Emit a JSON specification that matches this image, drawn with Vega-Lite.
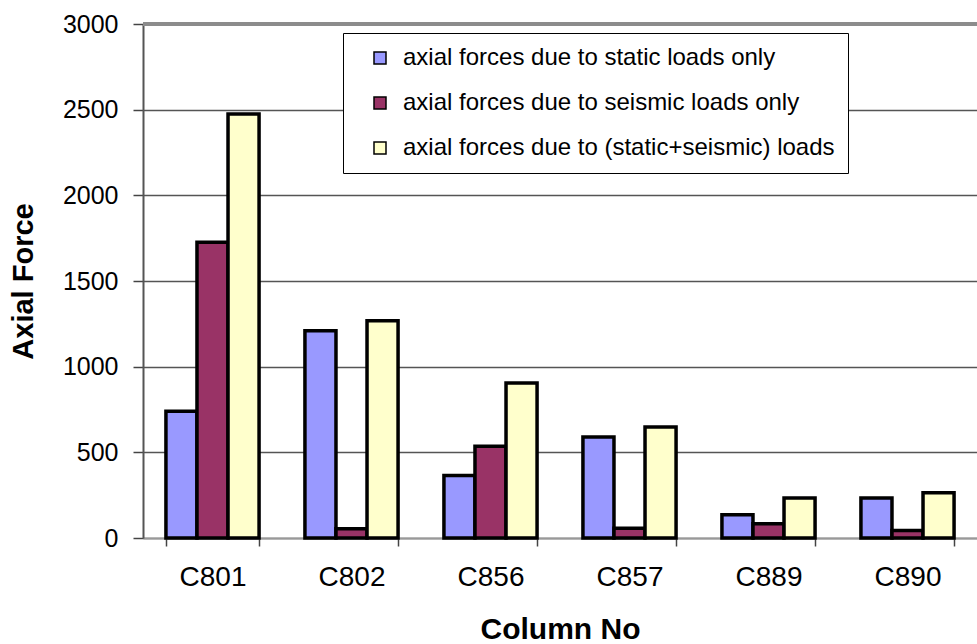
{
  "$schema": "https://vega.github.io/schema/vega-lite/v6.json",
  "autosize": {"type": "none"},
  "padding": {"left": 143, "top": 24, "right": 0, "bottom": 106},
  "width": 834,
  "height": 514,
  "background": "white",
  "config": {
    "font": "Liberation Sans",
    "view": {"stroke": null}
  },
  "data": {
    "values": [
      {"column": "C801", "load": "axial forces due to static loads only", "force": 740},
      {"column": "C801", "load": "axial forces due to seismic loads only", "force": 1726},
      {"column": "C801", "load": "axial forces due to (static+seismic) loads", "force": 2474},
      {"column": "C802", "load": "axial forces due to static loads only", "force": 1209},
      {"column": "C802", "load": "axial forces due to seismic loads only", "force": 54},
      {"column": "C802", "load": "axial forces due to (static+seismic) loads", "force": 1268},
      {"column": "C856", "load": "axial forces due to static loads only", "force": 365},
      {"column": "C856", "load": "axial forces due to seismic loads only", "force": 535},
      {"column": "C856", "load": "axial forces due to (static+seismic) loads", "force": 905},
      {"column": "C857", "load": "axial forces due to static loads only", "force": 589},
      {"column": "C857", "load": "axial forces due to seismic loads only", "force": 57},
      {"column": "C857", "load": "axial forces due to (static+seismic) loads", "force": 648},
      {"column": "C889", "load": "axial forces due to static loads only", "force": 136},
      {"column": "C889", "load": "axial forces due to seismic loads only", "force": 83},
      {"column": "C889", "load": "axial forces due to (static+seismic) loads", "force": 233},
      {"column": "C890", "load": "axial forces due to static loads only", "force": 233},
      {"column": "C890", "load": "axial forces due to seismic loads only", "force": 44},
      {"column": "C890", "load": "axial forces due to (static+seismic) loads", "force": 264}
    ]
  },
  "layer": [
    {
      "mark": {"type": "bar", "stroke": "black", "strokeWidth": 3.5, "strokeJoin": "miter"},
      "encoding": {
        "x": {
          "field": "column",
          "type": "nominal",
          "sort": null,
          "scale": {"paddingInner": 0.33, "paddingOuter": 0.165},
          "axis": {
            "title": "Column No",
            "titleFont": "Liberation Sans",
            "titleFontSize": 30,
            "titleFontWeight": "bold",
            "titleColor": "black",
            "titlePadding": 23,
            "labelFont": "Liberation Sans",
            "labelFontSize": 28,
            "labelColor": "black",
            "labelPadding": 17,
            "labelAngle": 0,
            "tickBand": "extent",
            "tickSize": 8,
            "tickColor": "#444",
            "tickWidth": 1.5,
            "domainColor": "#999",
            "domainWidth": 2,
            "grid": false
          }
        },
        "xOffset": {
          "field": "load",
          "type": "nominal",
          "sort": [
            "axial forces due to static loads only",
            "axial forces due to seismic loads only",
            "axial forces due to (static+seismic) loads"
          ],
          "scale": {"paddingInner": 0, "paddingOuter": 0}
        },
        "y": {
          "field": "force",
          "type": "quantitative",
          "scale": {"domain": [0, 3000], "nice": false},
          "axis": {
            "title": "Axial Force",
            "titleFont": "Liberation Sans",
            "titleFontSize": 29,
            "titleFontWeight": "bold",
            "titleColor": "black",
            "titlePadding": 24,
            "values": [0, 500, 1000, 1500, 2000, 2500, 3000],
            "format": "d",
            "labelFont": "Liberation Sans",
            "labelFontSize": 25,
            "labelColor": "black",
            "labelPadding": 15,
            "tickSize": 10,
            "tickColor": "#444",
            "tickWidth": 1.5,
            "domainColor": "#555",
            "domainWidth": 2,
            "grid": true,
            "gridColor": "#555",
            "gridWidth": 1.5
          }
        },
        "fill": {
          "field": "load",
          "type": "nominal",
          "sort": [
            "axial forces due to static loads only",
            "axial forces due to seismic loads only",
            "axial forces due to (static+seismic) loads"
          ],
          "scale": {"range": ["#9999FF", "#993366", "#FFFFCC"]},
          "legend": {
            "title": null,
            "orient": "none",
            "legendX": 200,
            "legendY": 9,
            "padding": 13,
            "rowPadding": 21,
            "strokeColor": "black",
            "fillColor": "white",
            "cornerRadius": 0,
            "symbolType": "square",
            "symbolSize": 144,
            "symbolStrokeColor": "black",
            "symbolStrokeWidth": 1.5,
            "symbolOffset": 12,
            "labelFont": "Liberation Sans",
            "labelFontSize": 24,
            "labelColor": "black",
            "labelOffset": 11,
            "labelLimit": 700
          }
        }
      }
    },
    {
      "mark": {"type": "rule", "color": "#8c8c8c", "strokeWidth": 3},
      "encoding": {"y": {"datum": 3000}}
    }
  ]
}
